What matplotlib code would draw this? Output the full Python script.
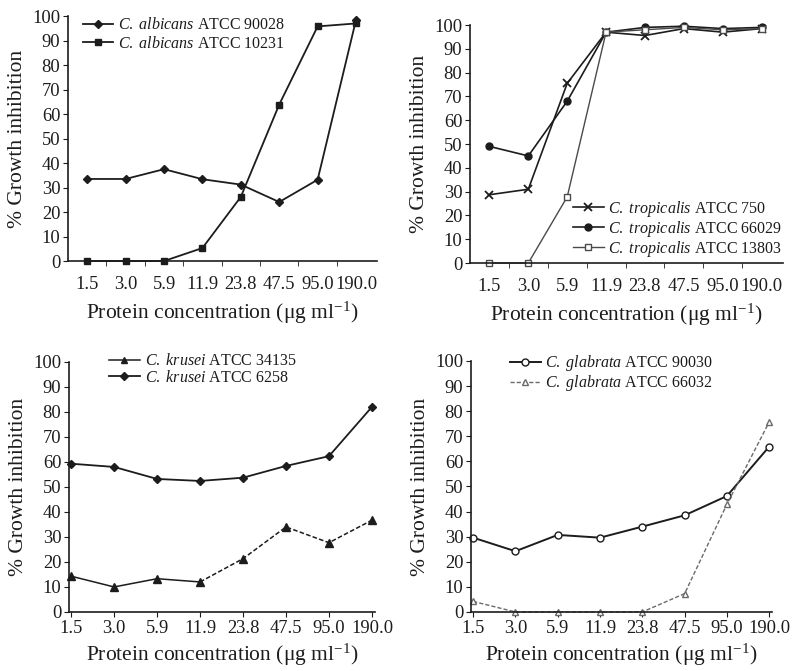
import matplotlib
matplotlib.use("Agg")
import matplotlib.pyplot as plt
import numpy as np

plt.rcParams['font.family'] = ['Liberation Serif', 'DejaVu Serif']
plt.rcParams['mathtext.fontset'] = 'custom'
plt.rcParams['mathtext.rm'] = 'Liberation Serif'
plt.rcParams['mathtext.it'] = 'Liberation Serif:italic'

conc = ['1.5', '3.0', '5.9', '11.9', '23.8', '47.5', '95.0', '190.0']

# panel a - C. albicans
alb_90028 = [33.5, 33.5, 37.5, 33.4, 31.2, 24.1, 33.2, 98.5]
alb_10231 = [0, 0, 0, 5.3, 26.2, 63.9, 95.8, 97.0]

# panel b - C. tropicalis
tro_750 = [28.7, 31.0, 75.5, 97.0, 95.6, 98.5, 97.0, 98.5]
tro_66029 = [49.0, 45.0, 68.0, 97.0, 99.0, 99.5, 98.5, 99.0]
tro_13803 = [0, 0, 27.8, 97.0, 98.0, 99.0, 98.0, 98.5]

# panel c - C. krusei
kru_34135 = [14.3, 10.0, 13.3, 12.0, 21.3, 34.0, 27.7, 36.7]
kru_6258 = [59.3, 58.0, 53.2, 52.4, 53.7, 58.4, 62.3, 82.0]

# panel d - C. glabrata
gla_90030 = [29.6, 24.2, 30.7, 29.6, 34.0, 38.5, 46.2, 65.9]
gla_66032 = [4.2, 0, 0, 0, 0, 7.3, 42.9, 75.7]

ink = '#1c1c1c'
grey = '#6a6a6a'
xlab = r'Protein concentration ($\mathrm{\mu}$g ml$^{-1}$)'
ylab = '% Growth inhibition'

fig = plt.figure(figsize=(8.03, 6.71), dpi=100)

def setup(ax, top_row):
    x = np.arange(len(conc))
    for s in ['top', 'right']:
        ax.spines[s].set_visible(False)
    for s in ['left', 'bottom']:
        ax.spines[s].set_linewidth(1.2)
        ax.spines[s].set_color(ink)
    ax.set_ylim(0, 100)
    ax.set_yticks(range(0, 101, 10))
    ax.set_xticks(x)
    ax.set_xticklabels(conc)
    if top_row:
        ax.set_xlim(-0.5, 7.55)
        ax.set_xticks(x[:-1] + 0.5, minor=True)
        ax.tick_params(axis='x', which='major', length=0, pad=11)
        ax.tick_params(axis='x', which='minor', length=3.5, direction='out', color=ink)
        lp = 5
    else:
        ax.set_xlim(-0.05, 7.07)
        ax.tick_params(axis='x', which='major', length=3.5, direction='out', pad=2, color=ink)
        lp = 4
    ax.tick_params(axis='y', length=3.5, direction='out', pad=2, color=ink)
    ax.tick_params(labelsize=13.3, colors=ink)
    ax.set_xlabel(xlab, fontsize=15.5, color=ink, labelpad=lp)
    ax.set_ylabel(ylab, fontsize=15.5, color=ink, labelpad=4)
    return x

leg_kw = dict(frameon=False, handletextpad=0.3, borderaxespad=0, borderpad=0,
              labelcolor=ink, fontsize=11.5)

# a
ax1 = fig.add_axes([0.0847, 0.611, 0.385, 0.365])
x = setup(ax1, True)
ax1.plot(x, alb_90028, color=ink, lw=1.3, marker='D', ms=4.5, clip_on=False,
         label=r'$\it{C.\ albicans}$ ATCC 90028')
ax1.plot(x, alb_10231, color=ink, lw=1.3, marker='s', ms=5, clip_on=False,
         label=r'$\it{C.\ albicans}$ ATCC 10231')
ax1.legend(loc='upper left', bbox_to_anchor=(0.05, 0.995),
           handlelength=1.85, labelspacing=0.15, **leg_kw)

# b
ax2 = fig.add_axes([0.5853, 0.608, 0.3898, 0.3547])
x = setup(ax2, True)
ax2.plot(x, tro_750, color=ink, lw=1.2, marker='x', ms=6, mew=1.3, clip_on=False,
         label=r'$\it{C.\ tropicalis}$ ATCC 750')
ax2.plot(x, tro_66029, color=ink, lw=1.2, marker='o', ms=5, clip_on=False,
         label=r'$\it{C.\ tropicalis}$ ATCC 66029')
ax2.plot(x, tro_13803, color='#4a4a4a', lw=1.0, marker='s', ms=4.5, mfc='white',
         mec='#4a4a4a', clip_on=False, label=r'$\it{C.\ tropicalis}$ ATCC 13803')
ax2.legend(loc='upper left', bbox_to_anchor=(0.33, 0.27),
           handlelength=1.9, labelspacing=0.0, **leg_kw)

# c
ax3 = fig.add_axes([0.0859, 0.088, 0.381, 0.3726])
x = setup(ax3, False)
ax3.plot(x[:4], kru_34135[:4], color=ink, lw=1.1, clip_on=False)
ax3.plot(x[3:], kru_34135[3:], color=ink, lw=1.1, ls=(0, (3, 1.5)), clip_on=False)
ax3.plot(x, kru_34135, ls='none', color=ink, marker='^', ms=5.5, clip_on=False)
ax3.plot([], [], color=ink, lw=1.1, marker='^', ms=5,
         label=r'$\it{C.\ krusei}$ ATCC 34135')
ax3.plot(x, kru_6258, color=ink, lw=1.3, marker='D', ms=4, clip_on=False,
         label=r'$\it{C.\ krusei}$ ATCC 6258')
ax3.legend(loc='upper left', bbox_to_anchor=(0.13, 1.035),
           handlelength=1.95, labelspacing=0.05, **leg_kw)

# d
ax4 = fig.add_axes([0.5866, 0.088, 0.375, 0.374])
x = setup(ax4, False)
ax4.plot(x, gla_90030, color=ink, lw=1.4, marker='o', ms=5, mfc='white', mec=ink,
         clip_on=False, label=r'$\it{C.\ glabrata}$ ATCC 90030')
ax4.plot(x, gla_66032, color=grey, lw=1.0, ls=(0, (3, 1.5)), marker='^', ms=5,
         mfc='white', mec=grey, clip_on=False, label=r'$\it{C.\ glabrata}$ ATCC 66032')
ax4.legend(loc='upper left', bbox_to_anchor=(0.13, 1.03),
           handlelength=1.9, labelspacing=0.0, **leg_kw)

fig.savefig('out.png', dpi=100)
